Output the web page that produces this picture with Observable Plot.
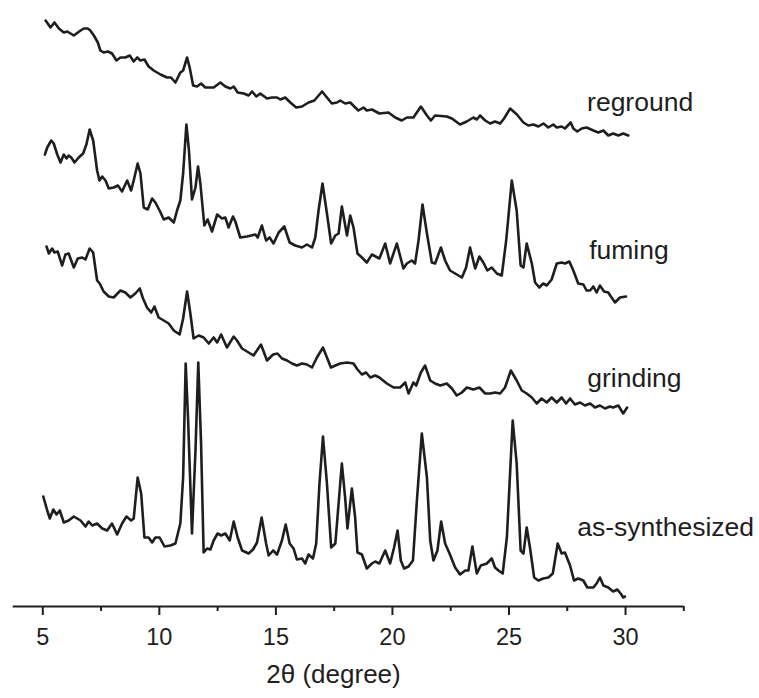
<!DOCTYPE html>
<html>
<head>
<meta charset="utf-8">
<script src="https://cdn.jsdelivr.net/npm/d3@7"></script>
<script src="https://cdn.jsdelivr.net/npm/@observablehq/plot@0.6"></script>
<style>
  html, body { margin: 0; padding: 0; background: #fff; }
  #chart svg { display: block; }
</style>
</head>
<body>
<div id="chart"></div>
<script>
// Powder XRD patterns: [2θ (degree), intensity (a.u.)]
const asSynthesized = [[5.02,110],[5.19,96],[5.30,88],[5.45,97],[5.59,92],[5.73,96],[5.90,84],[6.11,86],[6.33,90],[6.62,86],[6.83,80],[6.97,85],[7.12,81],[7.33,83],[7.55,78],[7.76,76],[7.97,83],[8.19,72],[8.40,83],[8.59,90],[8.79,86],[8.90,88],[9.07,129],[9.22,113],[9.36,69],[9.54,69],[9.69,64],[9.83,69],[10.01,69],[10.22,60],[10.47,61],[10.69,63],[10.90,83],[11.02,129],[11.13,243],[11.23,189],[11.40,73],[11.55,156],[11.67,244],[11.79,163],[11.90,54],[12.05,58],[12.19,57],[12.33,66],[12.50,73],[12.65,71],[12.83,73],[13.02,66],[13.19,85],[13.36,69],[13.55,56],[13.83,53],[14.02,57],[14.19,64],[14.39,89],[14.58,63],[14.69,51],[14.88,56],[15.05,52],[15.26,66],[15.42,82],[15.59,63],[15.76,58],[15.90,47],[16.12,48],[16.26,43],[16.40,52],[16.59,48],[16.73,63],[16.87,123],[17.02,170],[17.19,123],[17.37,59],[17.55,63],[17.69,103],[17.83,143],[17.97,109],[18.07,78],[18.26,118],[18.40,89],[18.50,54],[18.69,52],[18.90,38],[19.12,43],[19.26,45],[19.44,43],[19.69,56],[19.90,43],[20.07,59],[20.22,76],[20.36,46],[20.50,38],[20.69,40],[20.88,46],[21.05,106],[21.26,173],[21.48,129],[21.62,66],[21.76,46],[21.93,56],[22.09,85],[22.26,63],[22.45,53],[22.69,39],[22.90,32],[23.12,36],[23.26,36],[23.43,60],[23.62,33],[23.79,41],[24.05,43],[24.26,48],[24.40,39],[24.55,36],[24.73,33],[24.91,69],[25.16,186],[25.33,143],[25.50,56],[25.62,53],[25.76,79],[25.90,59],[26.08,29],[26.26,26],[26.47,28],[26.69,29],[26.88,33],[27.09,63],[27.26,53],[27.40,54],[27.62,41],[27.79,26],[27.97,28],[28.19,26],[28.36,19],[28.62,19],[28.76,23],[28.90,29],[29.05,21],[29.26,19],[29.47,15],[29.65,17],[29.79,13],[29.90,9],[29.98,10]];

const grinding = [[5.16,180],[5.26,173],[5.40,178],[5.50,174],[5.64,175],[5.83,161],[5.97,172],[6.11,173],[6.33,159],[6.50,168],[6.69,169],[6.83,167],[7.01,178],[7.16,174],[7.33,146],[7.44,143],[7.61,135],[7.83,130],[8.04,129],[8.33,136],[8.54,134],[8.76,129],[8.97,133],[9.16,138],[9.30,128],[9.47,119],[9.65,114],[9.79,120],[9.97,109],[10.19,106],[10.40,103],[10.62,96],[10.87,92],[11.02,108],[11.19,135],[11.33,113],[11.47,88],[11.69,91],[11.90,89],[12.12,83],[12.33,89],[12.48,84],[12.65,92],[12.90,79],[13.19,90],[13.33,86],[13.55,78],[13.76,75],[14.04,71],[14.36,82],[14.62,66],[14.88,72],[15.07,73],[15.26,68],[15.48,66],[15.69,63],[15.90,61],[16.12,63],[16.33,62],[16.55,59],[16.76,69],[17.02,79],[17.19,69],[17.36,59],[17.55,61],[17.76,63],[18.05,64],[18.33,63],[18.50,57],[18.69,52],[18.87,54],[19.05,49],[19.26,51],[19.44,49],[19.76,43],[20.05,39],[20.33,39],[20.55,44],[20.69,33],[20.90,44],[21.02,41],[21.22,54],[21.40,61],[21.62,46],[21.83,43],[22.05,41],[22.33,43],[22.55,38],[22.76,31],[22.98,34],[23.19,39],[23.47,37],[23.73,39],[23.98,33],[24.19,33],[24.40,34],[24.62,33],[24.83,39],[25.08,56],[25.33,46],[25.55,36],[25.76,33],[25.98,29],[26.19,23],[26.40,28],[26.62,24],[26.83,29],[27.05,24],[27.26,29],[27.45,23],[27.62,28],[27.83,22],[28.05,24],[28.26,21],[28.48,23],[28.69,19],[28.90,21],[29.12,18],[29.33,20],[29.47,19],[29.69,21],[29.90,13],[30.07,19]];

const fuming = [[5.09,152],[5.19,159],[5.36,166],[5.47,163],[5.62,152],[5.76,144],[5.90,152],[6.02,148],[6.11,151],[6.22,149],[6.36,144],[6.54,149],[6.73,153],[6.87,162],[7.01,177],[7.16,166],[7.33,136],[7.43,126],[7.55,130],[7.69,126],[7.83,118],[8.04,119],[8.22,121],[8.40,115],[8.62,126],[8.79,116],[8.93,129],[9.07,143],[9.19,133],[9.33,99],[9.50,97],[9.69,108],[9.83,104],[10.01,96],[10.19,87],[10.40,89],[10.62,84],[10.76,96],[10.90,106],[11.02,133],[11.16,182],[11.27,156],[11.40,107],[11.55,119],[11.66,140],[11.76,123],[11.93,81],[12.07,87],[12.26,75],[12.48,92],[12.69,88],[12.83,89],[12.97,79],[13.16,90],[13.26,85],[13.47,69],[13.76,70],[14.12,72],[14.22,69],[14.40,81],[14.58,66],[14.73,69],[14.90,63],[15.12,74],[15.36,80],[15.59,64],[15.83,61],[16.12,59],[16.33,62],[16.55,59],[16.69,69],[16.83,96],[17.00,123],[17.19,93],[17.37,63],[17.55,71],[17.69,73],[17.83,100],[18.05,71],[18.19,91],[18.33,79],[18.50,53],[18.69,49],[18.90,44],[19.12,52],[19.44,48],[19.69,63],[19.90,43],[20.19,63],[20.47,38],[20.62,43],[20.83,46],[20.97,43],[21.12,66],[21.29,102],[21.48,73],[21.69,44],[21.83,43],[22.08,59],[22.26,46],[22.47,36],[22.69,33],[22.98,29],[23.16,39],[23.33,59],[23.55,38],[23.73,50],[23.90,44],[24.07,36],[24.26,39],[24.48,33],[24.69,31],[24.88,66],[25.12,126],[25.33,96],[25.50,41],[25.62,39],[25.76,63],[25.98,43],[26.12,24],[26.30,19],[26.47,23],[26.62,21],[26.83,27],[27.05,43],[27.26,44],[27.40,43],[27.59,45],[27.76,36],[27.97,23],[28.19,22],[28.33,16],[28.48,16],[28.62,20],[28.76,14],[28.90,21],[29.08,15],[29.26,14],[29.40,9],[29.55,4],[29.76,9],[30.02,10]];

const reground = [[5.12,136],[5.33,129],[5.50,134],[5.69,128],[5.90,124],[6.05,125],[6.33,121],[6.62,126],[6.76,128],[6.93,128],[7.04,126],[7.19,121],[7.36,114],[7.47,106],[7.61,104],[7.79,105],[7.97,103],[8.16,96],[8.33,99],[8.54,99],[8.73,101],[8.90,95],[9.05,99],[9.19,96],[9.36,97],[9.54,90],[9.76,86],[10.05,82],[10.33,79],[10.50,79],[10.69,74],[10.90,84],[11.02,86],[11.19,99],[11.30,89],[11.45,71],[11.62,70],[11.79,73],[11.97,69],[12.33,69],[12.62,74],[12.83,70],[13.05,68],[13.19,70],[13.36,64],[13.62,63],[13.83,61],[13.98,65],[14.16,60],[14.33,63],[14.62,58],[14.83,59],[15.05,59],[15.19,57],[15.40,59],[15.62,54],[15.87,49],[16.12,50],[16.40,54],[16.65,56],[16.76,59],[16.98,65],[17.19,59],[17.40,53],[17.62,54],[17.76,56],[17.97,53],[18.19,54],[18.36,50],[18.54,46],[18.76,49],[18.90,46],[19.12,47],[19.44,43],[19.83,44],[20.12,39],[20.40,36],[20.62,39],[20.90,39],[21.22,50],[21.48,41],[21.65,36],[21.83,41],[22.33,40],[22.55,38],[22.90,32],[23.19,35],[23.47,39],[23.62,37],[23.76,41],[23.98,36],[24.19,33],[24.40,35],[24.62,33],[24.79,38],[25.05,48],[25.34,42],[25.62,34],[25.83,31],[26.05,32],[26.26,30],[26.48,33],[26.69,29],[26.90,32],[27.05,29],[27.26,30],[27.40,28],[27.65,34],[27.76,28],[27.93,25],[28.12,28],[28.33,29],[28.62,26],[28.83,24],[29.05,26],[29.26,21],[29.47,23],[29.69,21],[29.90,23],[30.12,21]];

// Sample names, bottom to top, and the vertical offset used to stack each pattern
const samples = ["as-synthesized", "grinding", "fuming", "reground"];
const patterns = [asSynthesized, grinding, fuming, reground];
const offsets = [0, 180, 300, 450];

// Axis ticks
const majorTicks = [5, 10, 15, 20, 25, 30];
const minorTicks = [7.5, 12.5, 17.5, 22.5, 27.5, 32.5];

// Long-format rows for the line mark
const rows = patterns.flatMap((pts, i) =>
  pts.map(([theta, intensity]) => ({sample: samples[i], theta, value: intensity + offsets[i]}))
);

// Label placement: 2θ where each name starts, and its height above the pattern's offset
const labelX = [27.93, 28.36, 28.44, 28.35];
const labelLift = [79, 47.5, 56, 54];

const ink = "#1e1e1e";

const chart = Plot.plot({
  width: 759,
  height: 698,
  marginLeft: 12.7,
  marginRight: 75.7,
  marginTop: 0,
  marginBottom: 92,
  x: {domain: [3.73, 32.5], label: null},
  y: {domain: [0, 606], axis: null},
  style: {
    fontFamily: '"Liberation Sans", Arial, Helvetica, sans-serif',
    color: ink,
    background: "#fff",
    overflow: "visible"
  },
  marks: [
    Plot.ruleY([0], {stroke: ink, strokeWidth: 2}),
    Plot.axisX({ticks: majorTicks, anchor: "bottom", tickSize: 9, tickPadding: 13, strokeWidth: 2, fontSize: 23.5, label: null, tickFormat: d => String(d)}),
    Plot.axisX({ticks: minorTicks, anchor: "bottom", tickSize: 5, strokeWidth: 2, label: null, tickFormat: () => ""}),
    Plot.line(rows, {x: "theta", y: "value", z: "sample", stroke: ink, strokeWidth: 2.6, strokeLinejoin: "round", strokeLinecap: "round"}),
    Plot.text(samples, {
      x: (d, i) => labelX[i],
      y: (d, i) => offsets[i] + labelLift[i],
      text: d => d,
      textAnchor: "start",
      fontSize: 26.5,
      fill: ink
    }),
    Plot.text(["2θ (degree)"], {frameAnchor: "bottom", lineAnchor: "top", dx: -15, dy: 58, fontSize: 26, fill: ink})
  ]
});

document.getElementById("chart").append(chart);
</script>
</body>
</html>
